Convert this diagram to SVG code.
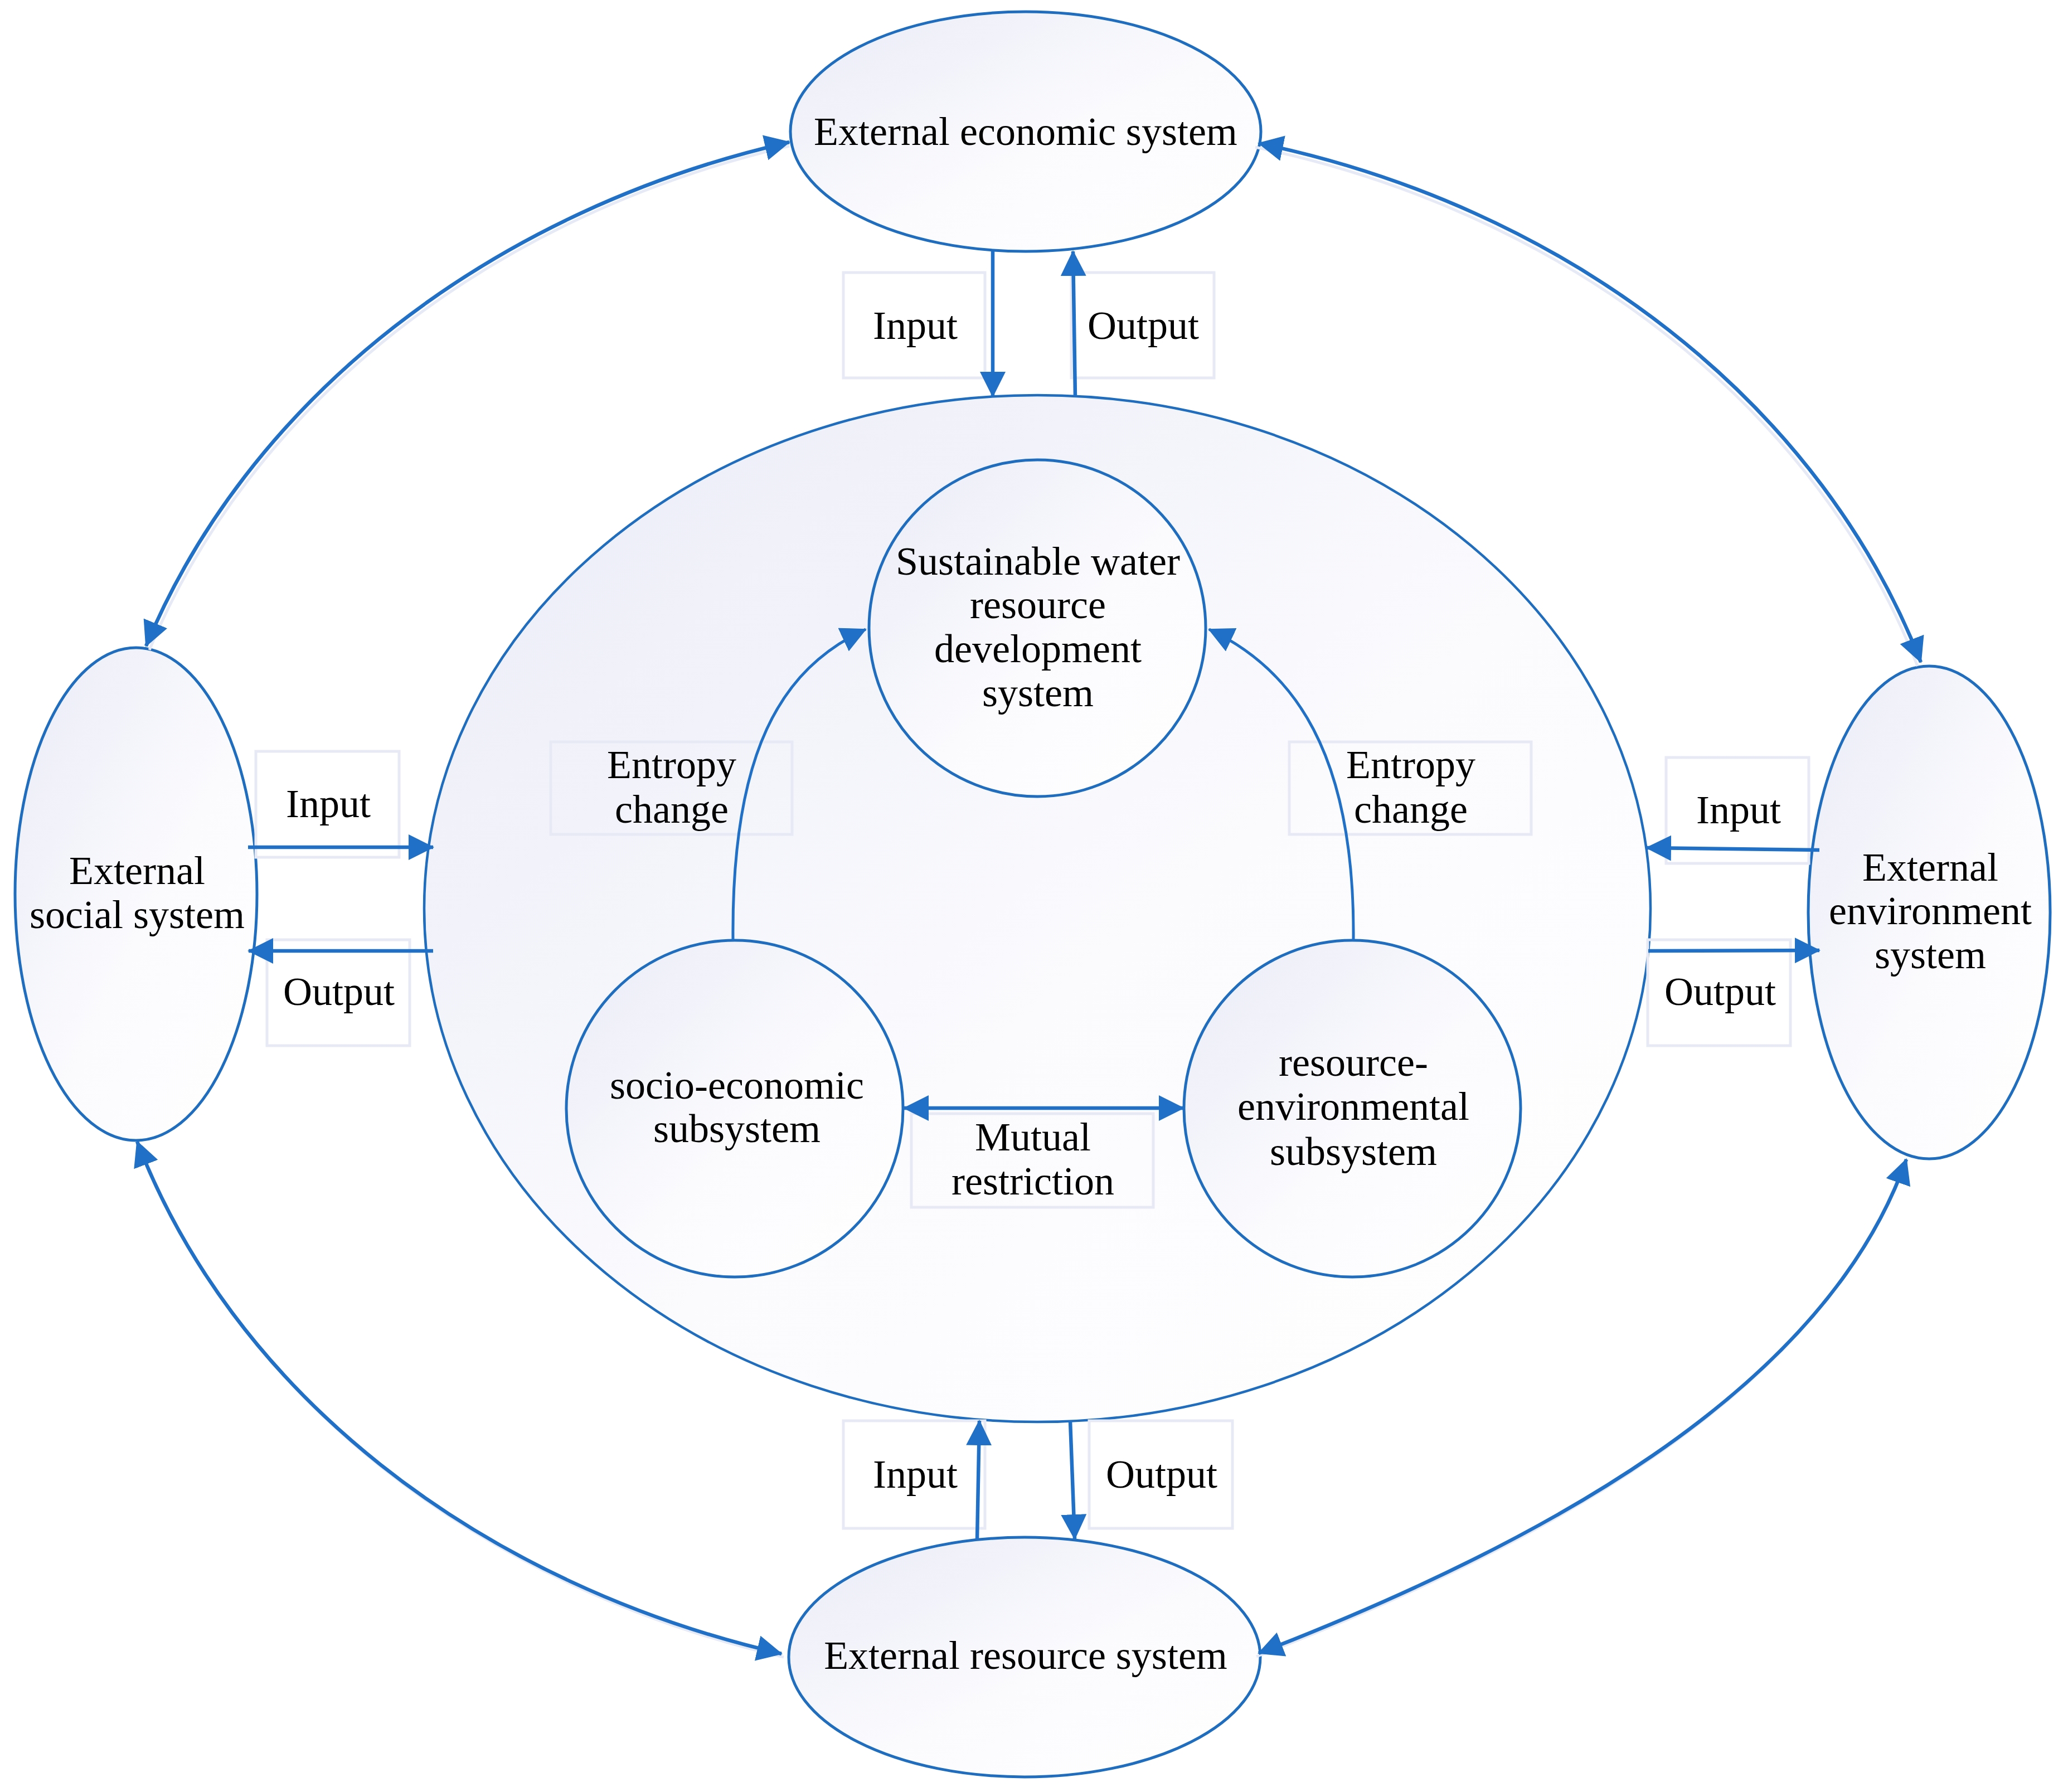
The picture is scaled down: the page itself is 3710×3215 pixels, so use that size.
<svg xmlns="http://www.w3.org/2000/svg" width="3710" height="3215" viewBox="0 0 3710 3215">
<defs>
<linearGradient id="g" x1="0" y1="0" x2="1" y2="1">
<stop offset="0" stop-color="#e9ebf6"/>
<stop offset="0.55" stop-color="#fbfbfe"/>
<stop offset="1" stop-color="#ffffff"/>
</linearGradient>
<marker id="ah" markerUnits="userSpaceOnUse" markerWidth="46" markerHeight="46" refX="44" refY="23" orient="auto-start-reverse" viewBox="0 0 46 46">
<path d="M0,0 L46,23 L0,46 Z" fill="#1f70c6"/>
</marker>
<style>
.node{fill:url(#g);stroke:#1f6dbf;stroke-width:5}
.big{fill:url(#g);stroke:#1f6dbf;stroke-width:4.5}
.box{fill:none;stroke:#e7e9f5;stroke-width:5}
.t{font-family:"Liberation Serif","Times New Roman",serif;font-size:72px;fill:#000;text-anchor:middle}
.c{fill:none;stroke:#1f70c6;stroke-width:6.5}
.ci{fill:none;stroke:#1f70c6;stroke-width:5}
.sh{fill:none;stroke:#e6e9f6;stroke-width:5}
</style>
</defs>
<rect width="3710" height="3215" fill="#ffffff"/>

<g id="center-system">
<ellipse class="big" cx="1861" cy="1630" rx="1100" ry="921"/>
</g>
<g id="external-economic">
<ellipse class="node" cx="1840" cy="236" rx="422" ry="215"/>
<text class="t" x="1840" y="260">External economic system</text>
</g>
<g id="external-resource">
<ellipse class="node" cx="1838" cy="2973" rx="423" ry="215"/>
<text class="t" x="1840" y="2994">External resource system</text>
</g>
<g id="external-social">
<ellipse class="node" cx="244" cy="1604" rx="217" ry="442"/>
<text class="t" x="246" y="1586">External</text>
<text class="t" x="246" y="1665">social system</text>
</g>
<g id="external-environment">
<ellipse class="node" cx="3461" cy="1637" rx="217" ry="442"/>
<text class="t" x="3463" y="1580">External</text>
<text class="t" x="3463" y="1658">environment</text>
<text class="t" x="3463" y="1737">system</text>
</g>
<g id="sustainable">
<circle class="node" cx="1861" cy="1127" r="302"/>
<text class="t" x="1862" y="1031">Sustainable water</text>
<text class="t" x="1862" y="1109">resource</text>
<text class="t" x="1862" y="1188">development</text>
<text class="t" x="1862" y="1267">system</text>
</g>
<g id="socio-economic">
<circle class="node" cx="1318" cy="1989" r="302"/>
<text class="t" x="1322" y="1971">socio-economic</text>
<text class="t" x="1322" y="2049">subsystem</text>
</g>
<g id="resource-environmental">
<circle class="node" cx="2426" cy="1989" r="302"/>
<text class="t" x="2428" y="1930">resource-</text>
<text class="t" x="2428" y="2009">environmental</text>
<text class="t" x="2428" y="2090">subsystem</text>
</g>

<g id="labels">
<rect class="box" x="1513" y="489" width="254" height="189"/>
<text class="t" x="1642" y="608">Input</text>
<rect class="box" x="1922" y="489" width="256" height="189"/>
<text class="t" x="2051" y="608">Output</text>
<rect class="box" x="459" y="1348" width="257" height="190"/>
<text class="t" x="589" y="1466">Input</text>
<rect class="box" x="479" y="1686" width="256" height="190"/>
<text class="t" x="608" y="1803">Output</text>
<rect class="box" x="2989" y="1359" width="256" height="190"/>
<text class="t" x="3119" y="1477">Input</text>
<rect class="box" x="2956" y="1686" width="256" height="190"/>
<text class="t" x="3086" y="1803">Output</text>
<rect class="box" x="1513" y="2549" width="254" height="193"/>
<text class="t" x="1642" y="2669">Input</text>
<rect class="box" x="1954" y="2549" width="257" height="193"/>
<text class="t" x="2084" y="2669">Output</text>
<rect class="box" x="988" y="1331" width="433" height="166"/>
<text class="t" x="1205" y="1396">Entropy</text>
<text class="t" x="1205" y="1476">change</text>
<rect class="box" x="2313" y="1331" width="434" height="166"/>
<text class="t" x="2531" y="1396">Entropy</text>
<text class="t" x="2531" y="1476">change</text>
<rect class="box" x="1635" y="1998" width="434" height="168"/>
<text class="t" x="1853" y="2064">Mutual</text>
<text class="t" x="1853" y="2143">restriction</text>
</g>

<g id="connectors">
<path class="sh" d="M1416,262 A1693,1425 0 0 0 268,1166"/>
<path class="sh" d="M2252,264 A1670,1414 0 0 1 3440,1195"/>
<path class="sh" d="M250,2054 A1693,1389 0 0 0 1406,2973"/>
<path class="sh" d="M3416,2086 C3267,2509 2738,2785 2254,2972"/>
<path class="c" d="M1416,255 A1693,1425 0 0 0 262,1159" marker-start="url(#ah)" marker-end="url(#ah)"/>
<path class="c" d="M2258,257 A1670,1414 0 0 1 3446,1188" marker-start="url(#ah)" marker-end="url(#ah)"/>
<path class="c" d="M246,2048 A1693,1389 0 0 0 1402,2967" marker-start="url(#ah)" marker-end="url(#ah)"/>
<path class="c" d="M3420,2080 C3271,2503 2742,2779 2258,2966" marker-start="url(#ah)" marker-end="url(#ah)"/>
<path class="c" d="M1781,451 L1781,711" marker-end="url(#ah)"/>
<path class="c" d="M1929,713 L1925,451" marker-end="url(#ah)"/>
<path class="c" d="M1753,2762 L1757,2549" marker-end="url(#ah)"/>
<path class="c" d="M1920,2549 L1928,2761" marker-end="url(#ah)"/>
<path class="c" d="M445,1520 L777,1520" marker-end="url(#ah)"/>
<path class="c" d="M777,1706 L446,1706" marker-end="url(#ah)"/>
<path class="c" d="M3264,1525 L2954,1521" marker-end="url(#ah)"/>
<path class="c" d="M2957,1706 L3264,1705" marker-end="url(#ah)"/>
<path class="ci" d="M1315,1687 C1312,1350 1400,1200 1553,1129" marker-end="url(#ah)"/>
<path class="ci" d="M2428,1687 C2431,1350 2320,1200 2169,1129" marker-end="url(#ah)"/>
<path class="c" d="M1622,1988 L2123,1988" marker-start="url(#ah)" marker-end="url(#ah)"/>
</g>
</svg>
